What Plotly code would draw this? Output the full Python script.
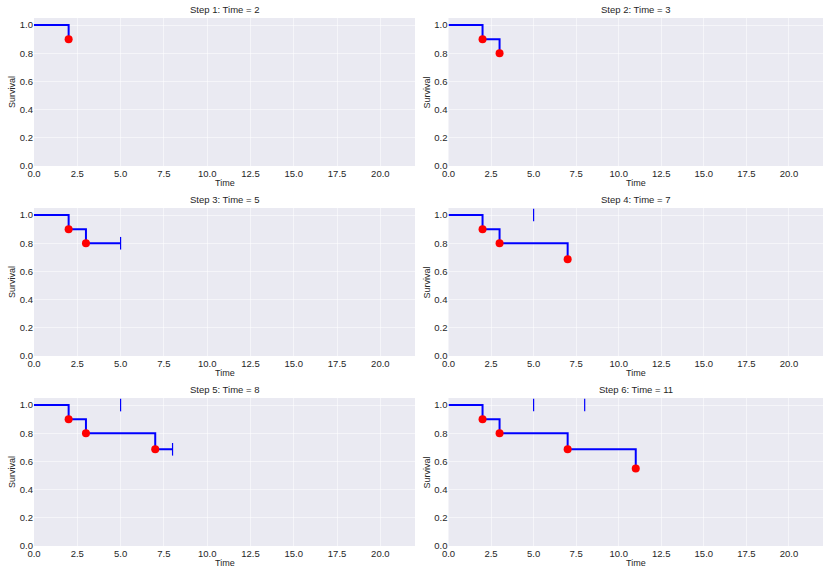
import plotly.graph_objects as go

# ---- data ----
step_times = [2, 3, 5, 7, 8, 11]
event_flags = [1, 1, 0, 1, 0, 1]          # 1 = event (death), 0 = censored
survival = [0.9, 0.8, 0.8, 0.686, 0.686, 0.549]
step_titles = ["Step 1: Time = 2", "Step 2: Time = 3", "Step 3: Time = 5",
               "Step 4: Time = 7", "Step 5: Time = 8", "Step 6: Time = 11"]
x_ticks = [0, 2.5, 5, 7.5, 10, 12.5, 15, 17.5, 20]
x_tick_labels = ["0.0", "2.5", "5.0", "7.5", "10.0", "12.5", "15.0", "17.5", "20.0"]
y_ticks = [0, 0.2, 0.4, 0.6, 0.8, 1.0]
y_tick_labels = ["0.0", "0.2", "0.4", "0.6", "0.8", "1.0"]

W, H = 824, 566
col_px = [(34, 415), (448.5, 823)]
row_px = [(18, 166), (208, 356), (398, 546)]

BG = "#EAEAF2"
FONT = "Liberation Sans, Arial, sans-serif"
TXT = "#262626"
GRID = "rgba(255,255,255,0.5)"

fig = go.Figure()
layout = dict(
    width=W, height=H, margin=dict(l=0, r=0, t=0, b=0, autoexpand=False),
    paper_bgcolor="white", plot_bgcolor=BG, showlegend=False,
    font=dict(family=FONT, size=9, color=TXT),
)
annotations = []

for k in range(6):
    r, c = divmod(k, 2)
    ax = "" if k == 0 else str(k + 1)
    xa, ya = "x" + ax, "y" + ax
    x0, x1 = col_px[c]
    y0, y1 = row_px[r]
    layout["xaxis" + ax] = dict(
        domain=[x0 / W, x1 / W], range=[0, 22], anchor=ya, automargin=False,
        tickvals=x_ticks, ticktext=x_tick_labels, showgrid=True,
        gridcolor=GRID, gridwidth=1, zeroline=False, showline=False,
        ticks="", tickfont=dict(size=9.5, color=TXT), fixedrange=True,
    )
    layout["yaxis" + ax] = dict(
        domain=[1 - y1 / H, 1 - y0 / H], range=[0, 1.05], anchor=xa, automargin=False,
        tickvals=y_ticks, ticktext=y_tick_labels, showgrid=True,
        gridcolor=GRID, gridwidth=1, zeroline=False, showline=False,
        ticks="", tickfont=dict(size=9.5, color=TXT), fixedrange=True,
    )

    # build the KM step path up to this step
    xs, ys = [0], [1.0]
    prev = 1.0
    for i in range(k + 1):
        t, s = step_times[i], survival[i]
        if event_flags[i]:
            xs += [t, t]
            ys += [prev, s]
        else:
            xs += [t]
            ys += [prev]
        prev = s
    fig.add_trace(go.Scatter(x=xs, y=ys, mode="lines", xaxis=xa, yaxis=ya,
                             line=dict(color="#0000FF", width=2), hoverinfo="skip"))

    # event markers
    ex = [step_times[i] for i in range(k + 1) if event_flags[i]]
    ey = [survival[i] for i in range(k + 1) if event_flags[i]]
    fig.add_trace(go.Scatter(x=ex, y=ey, mode="markers", xaxis=xa, yaxis=ya,
                             marker=dict(color="#FF0000", size=8)))

    # censor marks: earlier ones at top, current one on the curve
    cx, cy = [], []
    for i in range(k + 1):
        if not event_flags[i]:
            cx.append(step_times[i])
            cy.append(survival[i] if i == k else 1.0)
    if cx:
        fig.add_trace(go.Scatter(x=cx, y=cy, mode="markers", xaxis=xa, yaxis=ya,
                                 marker=dict(symbol="line-ns", size=9,
                                             line=dict(color="#0000FF", width=1.2))))

    # subplot title
    cxp = (x0 + x1) / 2 / W
    annotations.append(dict(text=step_titles[k], x=cxp, y=1 - (y0 - 9) / H,
                            xref="paper", yref="paper", showarrow=False,
                            xanchor="center", yanchor="middle",
                            font=dict(size=9.5, color=TXT)))
    annotations.append(dict(text="Time", x=cxp, y=1 - (y1 + 17) / H,
                            xref="paper", yref="paper", showarrow=False,
                            xanchor="center", yanchor="middle",
                            font=dict(size=9, color=TXT)))
    annotations.append(dict(text="Survival", x=(x0 - 22) / W, y=1 - (y0 + y1) / 2 / H,
                            xref="paper", yref="paper", showarrow=False, textangle=-90,
                            xanchor="center", yanchor="middle",
                            font=dict(size=9, color=TXT)))

# main title, mostly cut off at the top edge as in the reference
annotations.append(dict(text="Kaplan-Meier Estimator: Step-by-Step Construction (by Event Time)",
                        x=0.5, y=1 + 10 / H, xref="paper", yref="paper", showarrow=False,
                        xanchor="center", yanchor="bottom", font=dict(size=12, color=TXT)))

layout["annotations"] = annotations
fig.update_layout(**layout)
fig.write_html("out.html", config={"displayModeBar": False},
               post_script="document.body.style.margin='0px';document.body.style.overflow='hidden';")
